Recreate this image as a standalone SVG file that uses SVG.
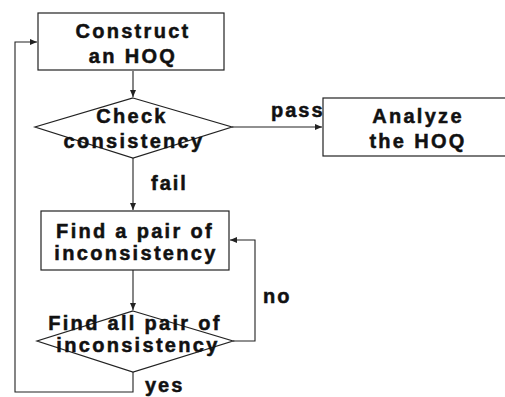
<svg xmlns="http://www.w3.org/2000/svg" width="505" height="397" viewBox="0 0 505 397">
<style>
.shape{fill:#fff;stroke:#222;stroke-width:1.2}
.lbl{font-family:"Liberation Sans",Arial,sans-serif;font-weight:bold;font-size:20px;letter-spacing:2.3px;fill:#111;stroke:#111;stroke-width:0.5;text-anchor:middle}
.edge{fill:none;stroke:#222;stroke-width:1.1}
.elbl{font-family:"Liberation Sans",Arial,sans-serif;font-weight:bold;font-size:20px;letter-spacing:2px;fill:#111;stroke:#111;stroke-width:0.5}
</style>
<defs>
<marker id="arr" markerWidth="8" markerHeight="8" refX="7" refY="4" orient="auto" markerUnits="userSpaceOnUse">
<path d="M0,1 L7,4 L0,7 Z" fill="#222"/>
</marker>
</defs>
<rect width="505" height="397" fill="#fff"/>
<g id="connectors">
<path class="edge" d="M133,71 V97" marker-end="url(#arr)"/>
<path class="edge" d="M232,127 H322" marker-end="url(#arr)"/>
<path class="edge" d="M133,158 V210" marker-end="url(#arr)"/>
<path class="edge" d="M133,270 V310" marker-end="url(#arr)"/>
<path class="edge" d="M233,341 H255 V240 H230" marker-end="url(#arr)"/>
<path class="edge" d="M133,372 V392 H15 V42 H37" marker-end="url(#arr)"/>
<text class="elbl" x="271" y="117">pass</text>
<text class="elbl" x="151" y="190">fail</text>
<text class="elbl" x="263" y="303">no</text>
<text class="elbl" x="145" y="392">yes</text>
</g>
<g id="construct">
<rect class="shape" x="38" y="13" width="186" height="57"/>
<text class="lbl" x="133" y="38">Construct</text>
<text class="lbl" x="133" y="63">an HOQ</text>
</g>
<g id="check">
<polygon class="shape" points="133,98 232,127 133,158 35,127"/>
<text class="lbl" x="132" y="123">Check</text>
<text class="lbl" x="134" y="148">consistency</text>
</g>
<g id="analyze">
<rect class="shape" x="323" y="98" width="190" height="58"/>
<text class="lbl" x="418" y="123">Analyze</text>
<text class="lbl" x="418" y="148">the HOQ</text>
</g>
<g id="findpair">
<rect class="shape" x="41" y="211" width="188" height="59"/>
<text class="lbl" x="135" y="238">Find a pair of</text>
<text class="lbl" x="136" y="260">inconsistency</text>
</g>
<g id="findall">
<polygon class="shape" points="133,311 233,341 133,372 37,341"/>
<text class="lbl" x="135" y="330">Find all pair of</text>
<text class="lbl" x="138" y="352">inconsistency</text>
</g>
</svg>
